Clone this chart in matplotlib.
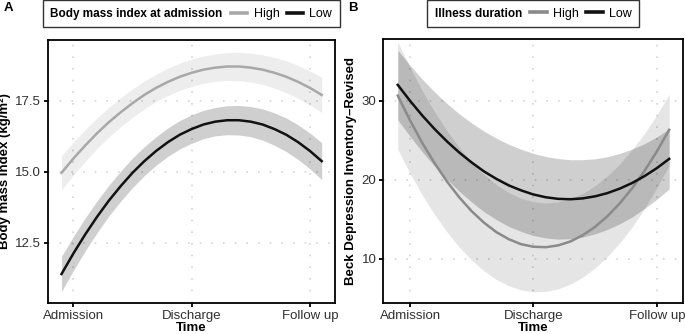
import matplotlib.pyplot as plt
from matplotlib.lines import Line2D
from matplotlib.offsetbox import HPacker

plt.rcParams['font.family'] = ['Liberation Sans', 'DejaVu Sans']

# time axis (0 = admission, 1 = discharge, 2 = follow up)
time_x = [-0.1, 0.0, 0.1, 0.2, 0.3, 0.4, 0.5, 0.6, 0.7, 0.8, 0.9, 1.0,
          1.1, 1.2, 1.3, 1.4, 1.5, 1.6, 1.7, 1.8, 1.9, 2.0, 2.1]
time_ticks = [0, 1, 2]
time_labels = ["Admission", "Discharge", "Follow up"]

# panel A: body mass index
bmi_high = [14.96, 15.46, 15.92, 16.35, 16.74, 17.09, 17.41, 17.70, 17.95, 18.16, 18.34, 18.48,
            18.59, 18.66, 18.70, 18.70, 18.66, 18.59, 18.48, 18.34, 18.16, 17.95, 17.70]
bmi_high_ci = [0.60, 0.58, 0.56, 0.54, 0.52, 0.51, 0.50, 0.49, 0.48, 0.48, 0.48, 0.48,
               0.48, 0.48, 0.49, 0.50, 0.51, 0.52, 0.54, 0.56, 0.58, 0.60, 0.62]
bmi_low = [11.40, 12.12, 12.79, 13.41, 13.98, 14.49, 14.96, 15.37, 15.73, 16.04, 16.30, 16.50,
           16.66, 16.76, 16.81, 16.81, 16.76, 16.66, 16.50, 16.30, 16.04, 15.73, 15.37]
bmi_low_ci = [0.62, 0.60, 0.58, 0.56, 0.54, 0.53, 0.52, 0.51, 0.50, 0.50, 0.50, 0.50,
              0.50, 0.50, 0.51, 0.52, 0.53, 0.55, 0.57, 0.59, 0.61, 0.63, 0.65]
bmi_ticks = [12.5, 15.0, 17.5]

# panel B: Beck Depression Inventory
bdi_high = [30.67, 27.53, 24.65, 22.09, 19.79, 17.77, 16.03, 14.58, 13.39, 12.50, 11.87, 11.55,
            11.49, 11.72, 12.22, 13.01, 14.08, 15.42, 17.05, 18.95, 21.14, 23.61, 26.35]
bdi_high_ci = [6.8, 6.7, 6.6, 6.5, 6.4, 6.3, 6.2, 6.1, 6.0, 5.9, 5.8, 5.7,
               5.6, 5.5, 5.4, 5.3, 5.2, 5.1, 5.0, 4.9, 4.75, 4.6, 4.5]
bdi_low = [32.03, 30.01, 28.13, 26.42, 24.86, 23.45, 22.20, 21.07, 20.13, 19.31, 18.68, 18.16,
           17.81, 17.61, 17.56, 17.67, 17.93, 18.34, 18.91, 19.62, 20.49, 21.50, 22.67]
bdi_low_ci = [4.4, 4.5, 4.6, 4.7, 4.8, 4.9, 5.0, 5.1, 5.15, 5.2, 5.2, 5.2,
              5.15, 5.1, 5.0, 4.9, 4.75, 4.6, 4.45, 4.3, 4.1, 3.95, 3.8]
bdi_ticks = [10, 20, 30]

fig = plt.figure(figsize=(6.85, 3.34), dpi=100)
axA = fig.add_axes([0.0696, 0.0937, 0.4194, 0.788])
axB = fig.add_axes([0.5596, 0.0919, 0.4375, 0.7904])


def band(ax, y, ci, color, alpha):
    lo = [a - b for a, b in zip(y, ci)]
    hi = [a + b for a, b in zip(y, ci)]
    ax.fill_between(time_x, lo, hi, color=color, alpha=alpha, lw=0)


def style(ax, yticks, ylabel, ylim, legend_title, high_col):
    ax.set_xlim(-0.217, 2.212)
    ax.set_ylim(*ylim)
    ax.set_xticks(time_ticks)
    ax.set_xticklabels(time_labels)
    ax.set_yticks(yticks)
    ax.grid(True, color='#d4d4d4', linestyle=(0, (1, 6)), lw=1.2)
    ax.set_axisbelow(True)
    for s in ax.spines.values():
        s.set_linewidth(1.3)
    ax.tick_params(direction='out', length=3, width=1.3, labelsize=9.5,
                   labelcolor='#303030', pad=2)
    ax.set_xlabel("Time", fontsize=9.5, fontweight='bold', labelpad=0)
    ax.set_ylabel(ylabel, fontsize=9.5, fontweight='bold', labelpad=3)
    handles = [Line2D([], [], color=high_col, lw=2.6),
               Line2D([], [], color='#111111', lw=2.6)]
    leg = ax.legend(handles, ["High", "Low"], ncol=2, loc='center',
                    bbox_to_anchor=(0.5, 1.097), title=legend_title,
                    fontsize=9, title_fontproperties={'weight': 'bold', 'size': 8.5},
                    handlelength=1.3, handletextpad=0.5, columnspacing=0.6,
                    frameon=True, fancybox=False, edgecolor='black',
                    borderpad=0.6, borderaxespad=0)
    leg.get_frame().set_linewidth(1.0)
    # put the legend title on the left of the keys, like ggplot
    kids = leg._legend_box.get_children()
    box = HPacker(pad=leg._legend_box.pad, sep=6, align="center", children=kids)
    box.set_figure(fig)
    box.set_offset(leg._findoffset)
    leg._legend_box = box


# panel A
band(axA, bmi_high, bmi_high_ci, 'black', 0.07)
band(axA, bmi_low, bmi_low_ci, 'black', 0.19)
axA.plot(time_x, bmi_high, color='#a8a8a8', lw=1.8)
axA.plot(time_x, bmi_low, color='#111111', lw=1.8)
style(axA, bmi_ticks, "Body mass index (kg/m²)", (10.39, 19.65),
      "Body mass index at admission", '#a8a8a8')

# panel B
band(axB, bdi_high, bdi_high_ci, 'black', 0.1)
band(axB, bdi_low, bdi_low_ci, 'black', 0.19)
axB.plot(time_x, bdi_high, color='#8a8a8a', lw=1.8)
axB.plot(time_x, bdi_low, color='#111111', lw=1.8)
style(axB, bdi_ticks, "Beck Depression Inventory–Revised", (4.39, 37.8),
      "Illness duration", '#8a8a8a')

fig.text(0.006, 0.975, "A", fontsize=9.5, fontweight='bold', va='center')
fig.text(0.508, 0.975, "B", fontsize=9.5, fontweight='bold', va='center')

fig.savefig("out.png", dpi=100)
